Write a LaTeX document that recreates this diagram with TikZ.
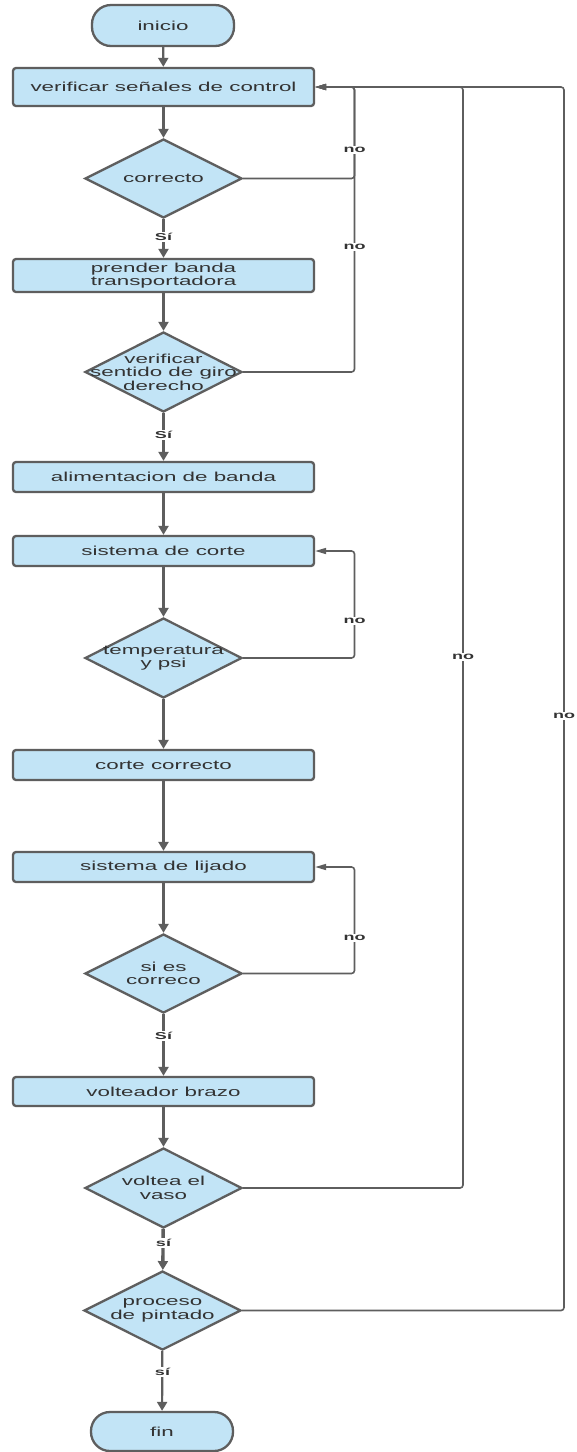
\documentclass[tikz,border=0pt]{standalone}
\usepackage{fontspec}
\setmainfont[FakeStretch=1.72]{Liberation Sans}
\newfontfamily\lblfont[FakeStretch=1.8]{Liberation Sans Bold}
\usetikzlibrary{shapes.geometric,arrows.meta}
\definecolor{fillblue}{HTML}{C2E4F6}
\definecolor{edgegray}{HTML}{5E5E5E}
\definecolor{txtgray}{HTML}{333333}
\tikzset{
  procbox/.style={draw=edgegray, fill=fillblue, line width=2.3pt, rounded corners=3pt,
    minimum width=301pt, inner sep=0pt, align=center, text=txtgray,
    font=\fontsize{13}{13.4}\selectfont},
  termbox/.style={draw=edgegray, fill=fillblue, line width=2.3pt, rounded corners=19pt,
    minimum width=142pt, inner sep=0pt, align=center, text=txtgray,
    font=\fontsize{13}{13.4}\selectfont},
  decbox/.style={draw=edgegray, fill=fillblue, line width=2.3pt, diamond, inner sep=0pt,
    minimum width=157pt, minimum height=80pt},
  dectext/.style={align=center, text=txtgray, inner sep=0pt,
    font=\fontsize{13}{13.4}\selectfont},
  flow/.style={draw=edgegray, line width=2.2pt, -{Triangle[length=9pt,width=10pt]}},
  loopline/.style={draw=edgegray, line width=1.6pt, rounded corners=3pt,
    -{Triangle[length=11pt,width=6pt]}},
  lbl/.style={fill=white, text=txtgray, inner sep=1.2pt, font=\lblfont\fontsize{10}{10}\selectfont},
}
\begin{document}
\begin{tikzpicture}[x=1pt,y=-1pt]
\useasboundingbox[fill=white] (0,0) rectangle (576,1452);

% nodes
\node[termbox, minimum height=41pt] (inicio) at (163,25.5) {inicio};
\node[procbox, minimum height=38pt] (b1) at (163.5,87) {verificar señales de control};
\node[decbox, minimum height=79pt] (d1) at (163.5,178.5) {};
\node[dectext] (d1t) at (d1) {correcto};
\node[procbox, minimum height=33pt] (b2) at (163.5,275.5) {prender banda\\transportadora};
\node[decbox] (d2) at (163.5,372) {};
\node[dectext] (d2t) at (d2) {verificar\\sentido de giro\\derecho};
\node[procbox, minimum height=30pt] (b3) at (163.5,477) {alimentacion de banda};
\node[procbox, minimum height=30pt] (b4) at (163.5,551) {sistema de corte};
\node[decbox] (d3) at (163.5,658) {};
\node[dectext] (d3t) at (d3) {temperatura\\y psi};
\node[procbox, minimum height=30pt] (b5) at (163.5,765) {corte correcto};
\node[procbox, minimum height=30pt] (b6) at (163.5,867) {sistema de lijado};
\node[decbox, minimum height=79pt] (d4) at (163.5,973.5) {};
\node[dectext] (d4t) at (d4) {si es\\correco};
\node[procbox, minimum height=29pt] (b7) at (163.5,1091.5) {volteador brazo};
\node[decbox] (d5) at (163.5,1188) {};
\node[dectext] (d5t) at (d5) {voltea el\\vaso};
\node[decbox, minimum height=79pt] (d6) at (162.5,1310.5) {};
\node[dectext] (d6t) at (d6) {proceso\\de pintado};
\node[termbox, minimum height=39pt] (fin) at (162,1431.5) {fin};

% loop corner coordinates
\coordinate (c1) at (354.5,87);
\coordinate (c2) at (463,87);
\coordinate (c3) at (564,87);
\coordinate (c4) at (354.5,551);
\coordinate (c5) at (354.5,867);

% main flow
\draw[flow] (inicio) -- (b1);
\draw[flow] (b1) -- (d1);
\draw[flow] (d1) -- (b2);
\draw[flow] (b2) -- (d2);
\draw[flow] (d2) -- (b3);
\draw[flow] (b3) -- (b4);
\draw[flow] (b4) -- (d3);
\draw[flow] (d3) -- (b5);
\draw[flow] (b5) -- (b6);
\draw[flow] (b6) -- (d4);
\draw[flow] (d4) -- (b7);
\draw[flow] (b7) -- (d5);
\draw[flow, line width=3.4pt] (d5) -- (d6);
\draw[flow] (d6) -- (fin);

% loops
\draw[loopline] (d1.east) -| (c1) -- (b1.east);
\draw[loopline] (d2.east) -| (c1) -- (b1.east);
\draw[loopline] (d3.east) -| (c4) -- (b4.east);
\draw[loopline] (d4.east) -| (c5) -- (b6.east);
\draw[loopline] (d5.east) -| (c2) -- (b1.east);
\draw[loopline] (d6.east) -| (c3) -- (b1.east);

% labels
\node[lbl] (s1) at (163.5,237) {Sí};
\node[lbl] (s2) at (163.5,435) {Sí};
\node[lbl] (s3) at (163.5,1036) {Sí};
\node[lbl] (s4) at (163.5,1243) {sí};
\node[lbl] (s5) at (162.5,1372) {sí};
\node[lbl] (n1) at (354.5,150) {no};
\node[lbl] (n2) at (354.5,247) {no};
\node[lbl] (n3) at (354.5,621) {no};
\node[lbl] (n4) at (354.5,938) {no};
\node[lbl] (n5) at (463,657) {no};
\node[lbl] (n6) at (564,716) {no};
\end{tikzpicture}
\end{document}
